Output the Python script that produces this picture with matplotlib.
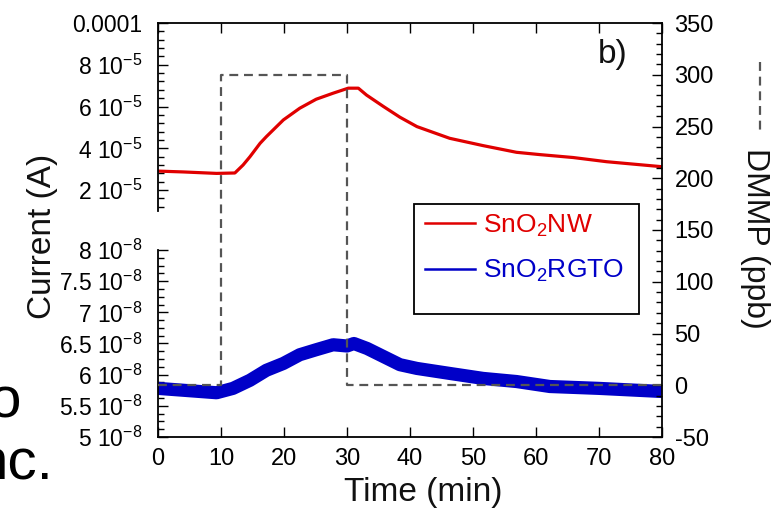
import matplotlib
matplotlib.use("Agg")
import matplotlib.pyplot as plt
from matplotlib.lines import Line2D
from matplotlib.patches import Rectangle
from matplotlib.ticker import FixedLocator, MultipleLocator

# SnO2 nanowire current (A) vs time (min)
time_nw = [0, 4, 9.3, 12.2, 13.5, 14.6, 16.2, 17.2, 19.9, 22.5, 25.1, 27.8,
           30.2, 31.8, 33.1, 35.8, 38.4, 41.1, 46.3, 51.6, 56.9, 60.6, 65.9,
           71.2, 80]
current_nw = [2.91e-5, 2.87e-5, 2.80e-5, 2.82e-5, 3.20e-5, 3.60e-5, 4.24e-5,
              4.56e-5, 5.36e-5, 5.92e-5, 6.35e-5, 6.64e-5, 6.88e-5, 6.88e-5,
              6.55e-5, 6.00e-5, 5.49e-5, 5.04e-5, 4.48e-5, 4.13e-5, 3.81e-5,
              3.70e-5, 3.56e-5, 3.36e-5, 3.12e-5]

# SnO2 RGTO current (A) vs time (min)
time_rgto = [0, 4, 9.3, 11.9, 14.6, 17.2, 19.9, 22.5, 25.1, 27.8, 30.0, 31.1,
             33.2, 35.8, 38.4, 41.1, 46.3, 51.6, 56.9, 62.2, 70, 80]
current_rgto = [5.78e-8, 5.75e-8, 5.71e-8, 5.78e-8, 5.91e-8, 6.07e-8, 6.18e-8,
                6.32e-8, 6.40e-8, 6.48e-8, 6.46e-8, 6.50e-8, 6.42e-8, 6.29e-8,
                6.16e-8, 6.10e-8, 6.02e-8, 5.94e-8, 5.89e-8, 5.81e-8, 5.78e-8,
                5.73e-8]

# DMMP pulse (ppb)
time_dmmp = [0, 10, 10, 30, 30, 80]
dmmp_ppb = [0, 0, 300, 300, 0, 0]

nw_ticks = [2e-5, 4e-5, 6e-5, 8e-5, 1e-4]
nw_labels = ["2 10$^{-5}$", "4 10$^{-5}$", "6 10$^{-5}$", "8 10$^{-5}$", "0.0001"]
rgto_ticks = [5e-8, 5.5e-8, 6e-8, 6.5e-8, 7e-8, 7.5e-8, 8e-8]
rgto_labels = ["5 10$^{-8}$", "5.5 10$^{-8}$", "6 10$^{-8}$", "6.5 10$^{-8}$",
               "7 10$^{-8}$", "7.5 10$^{-8}$", "8 10$^{-8}$"]
time_ticks = [0, 10, 20, 30, 40, 50, 60, 70, 80]

RED = "#e00000"
BLUE = "#0000c8"
GREY = "#555555"

plt.rcParams["font.family"] = ["Liberation Sans", "DejaVu Sans"]
plt.rcParams["mathtext.fontset"] = "custom"
plt.rcParams["mathtext.rm"] = "Liberation Sans"
plt.rcParams["mathtext.it"] = "Liberation Sans:italic"
plt.rcParams["mathtext.default"] = "regular"
plt.rcParams["axes.unicode_minus"] = False
plt.rcParams["text.color"] = "#111111"

W, H = 771, 508
fig = plt.figure(figsize=(W / 100, H / 100), dpi=100)


def frac(x0, y0, x1, y1):
    # pixel box (top-left origin) -> figure fraction rect
    return [x0 / W, 1 - y1 / H, (x1 - x0) / W, (y1 - y0) / H]


tick_kw = dict(direction="in", color="black", width=1.0)

# ---- top left segment: SnO2 NW
ax_nw = fig.add_axes(frac(158, 23, 662, 211))
ax_nw.plot(time_nw, current_nw, color=RED, lw=2.3)
ax_nw.set_xlim(0, 80)
ax_nw.set_ylim(1e-5, 1e-4)
ax_nw.yaxis.set_major_locator(FixedLocator(nw_ticks))
ax_nw.set_yticklabels(nw_labels)
ax_nw.yaxis.set_minor_locator(MultipleLocator(0.4e-5))

# ---- bottom left segment: SnO2 RGTO
ax_rg = fig.add_axes(frac(158, 250, 662, 437))
ax_rg.plot(time_rgto, current_rgto, color=BLUE, lw=9.5, solid_capstyle="butt")
ax_rg.set_xlim(0, 80)
ax_rg.set_ylim(5e-8, 8e-8)
ax_rg.yaxis.set_major_locator(FixedLocator(rgto_ticks))
ax_rg.set_yticklabels(rgto_labels)
ax_rg.yaxis.set_minor_locator(MultipleLocator(0.125e-8))

for a in (ax_nw, ax_rg):
    a.patch.set_alpha(0)
    for s in ("top", "right", "bottom"):
        a.spines[s].set_visible(False)
    a.spines["left"].set_linewidth(1.3)
    a.set_xticks([])
    a.tick_params(axis="y", which="major", length=7, pad=11, labelsize=16.5, **tick_kw)
    a.tick_params(axis="y", which="minor", length=4, **tick_kw)

# ---- DMMP axis (frame, x axis, right axis)
ax = fig.add_axes(frac(158, 23, 662, 437))
ax.patch.set_alpha(0)
ax.plot(time_dmmp, dmmp_ppb, color=GREY, lw=1.6, ls=(0, (4, 2.6)))
ax.set_xlim(0, 80)
ax.set_ylim(-50, 350)
ax.spines["left"].set_visible(False)
for s in ("top", "right", "bottom"):
    ax.spines[s].set_linewidth(1.3)
ax.yaxis.tick_right()
ax.yaxis.set_major_locator(MultipleLocator(50))
ax.yaxis.set_minor_locator(MultipleLocator(10))
ax.set_xticks(time_ticks)
ax.tick_params(axis="x", which="major", top=True, bottom=True, length=7, pad=8,
               labelsize=17, **tick_kw)
ax.tick_params(axis="y", which="major", left=False, right=True, length=7, pad=9,
               labelsize=17, **tick_kw)
ax.tick_params(axis="y", which="minor", left=False, right=True, length=4, **tick_kw)

ax.text(0.903, 0.923, "b)", transform=ax.transAxes, fontsize=24,
        ha="center", va="center")

# legend: entries without frame, box drawn separately (extra room at bottom)
handles = [Line2D([], [], color=RED, lw=1.8), Line2D([], [], color=BLUE, lw=1.8)]
leg = ax.legend(handles, ["SnO$_2$NW", "SnO$_2$RGTO"], loc="upper left",
                bbox_to_anchor=(0.520, 0.5545), borderaxespad=0, fontsize=19,
                frameon=False, handlelength=1.9, handletextpad=0.3,
                labelspacing=0.72, borderpad=0.2)
leg.get_texts()[0].set_color(RED)
leg.get_texts()[1].set_color(BLUE)
ax.add_patch(Rectangle((0.508, 0.297), 0.446, 0.266, transform=ax.transAxes,
                       fill=False, edgecolor="black", lw=1.3, zorder=5))

# ---- axis labels
fig.text(423 / W, 1 - 492 / H, "Time (min)", fontsize=24, ha="center", va="center")
fig.text(43 / W, 1 - 236 / H, "Current (A)", fontsize=24, rotation=90,
         ha="center", va="center")
fig.text(755 / W, 1 - 238 / H, "DMMP (ppb)", fontsize=23, rotation=270,
         ha="center", va="center")
fig.add_artist(Line2D([760 / W, 760 / W], [1 - 62 / H, 1 - 135 / H],
                      color=GREY, lw=1.6, ls=(0, (4, 2.6))))

# leftover slide text at the left edge
fig.text(21 / W, 1 - 417 / H, "o", fontsize=42, ha="right", va="baseline", color="black")
fig.text(53 / W, 1 - 480 / H, "nc.", fontsize=42, ha="right", va="baseline", color="black")

fig.savefig("out.png", dpi=100)
